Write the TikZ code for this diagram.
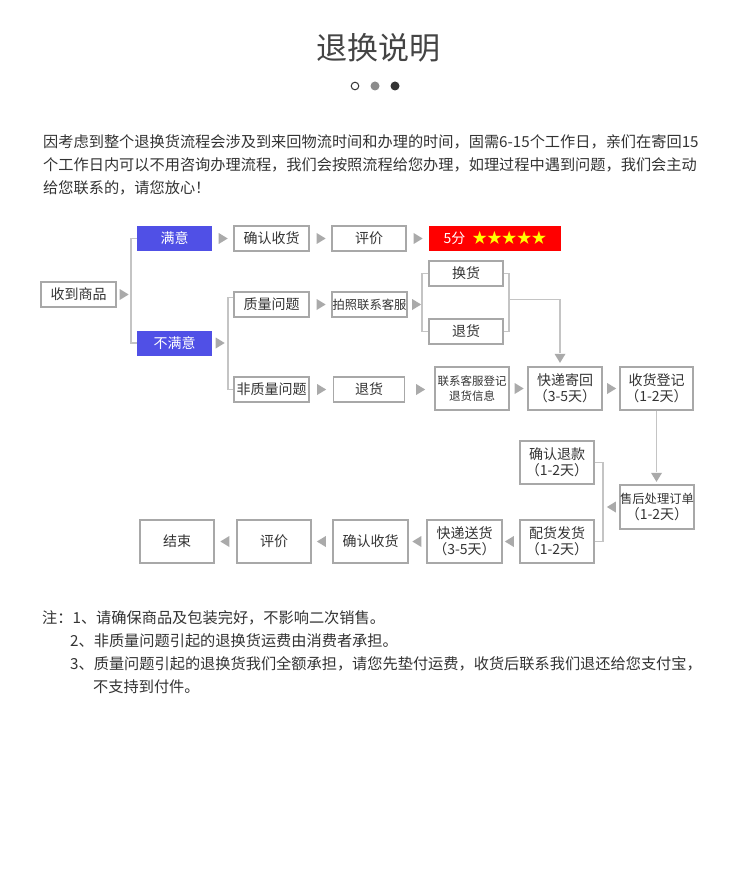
\documentclass[tikz,border=0pt]{standalone}
\usepackage{fontspec}
\setmainfont{Noto Sans CJK SC}
\usetikzlibrary{calc}
\definecolor{bordergray}{HTML}{A8A8A8}
\definecolor{linegray}{HTML}{C4C4C4}
\definecolor{trigray}{HTML}{AAAAAA}
\definecolor{txt}{HTML}{333333}
\definecolor{titlegray}{HTML}{444444}
\definecolor{satblue}{RGB}{80,80,230}
\definecolor{starred}{HTML}{FF0000}
\definecolor{staryellow}{HTML}{FFFF00}
\tikzset{
 bx/.style={draw=bordergray, line width=1.3pt, inner sep=0pt, minimum height=25pt, text=txt, font=\fontsize{14}{16}\selectfont, align=center},
 tall/.style={minimum height=43pt},
 bluebox/.style={fill=satblue, inner sep=0pt, minimum width=75pt, minimum height=25pt, text=white, font=\fontsize{14}{16}\selectfont},
 ln/.style={draw=linegray, line width=1.8pt},
 para/.style={anchor=west, inner sep=0pt, text=txt, font=\fontsize{15.2}{15}\selectfont},
 rtri/.pic={\fill[trigray] (-4.5,-5.5) -- (4.5,0) -- (-4.5,5.5) -- cycle;},
}
\begin{document}
\begin{tikzpicture}[x=1pt,y=-1pt]
\useasboundingbox[fill=white] (0,0) rectangle (750,874);
% title
\node[text=titlegray, font=\fontsize{31}{31}\selectfont, inner sep=0] (title) at (378,48) {退换说明};
\draw[draw=txt, line width=1pt] (355,86) circle (3.8);
\fill[fill=gray!90] (375,86) circle (4.5);
\fill[fill=txt] (395,86) circle (4.5);
% paragraph
\node[para] (p1) at (43,142) {因考虑到整个退换货流程会涉及到来回物流时间和办理的时间，固需6-15个工作日，亲们在寄回15};
\node[para] (p2) at (43,165) {个工作日内可以不用咨询办理流程，我们会按照流程给您办理，如理过程中遇到问题，我们会主动};
\node[para] (p3) at (43,188) {给您联系的，请您放心！};
% flow nodes
\node[bx, minimum width=75pt] (recv) at (78.5,294.5) {收到商品};
\node[bluebox] (sat) at (174.5,238.5) {满意};
\node[bluebox] (unsat) at (174.5,343) {不满意};
\node[bx, minimum width=75pt] (conf1) at (271.5,238.5) {确认收货};
\node[bx, minimum width=74pt] (eval1) at (369,238.5) {评价};
\node[fill=starred, inner sep=0pt, minimum width=132pt, minimum height=25pt] (five) at (495,238.5)
  {\fontsize{14}{16}\selectfont\color{white}5分\hspace{7pt}\color{staryellow}\fontsize{14.8}{16}\selectfont ★★★★★};
\node[bx, minimum width=75pt] (qual) at (271.5,304.5) {质量问题};
\node[bx, minimum width=75pt, font=\fontsize{12.3}{14}\selectfont] (photo) at (369.5,304.5) {拍照联系客服};
\node[bx, minimum width=74pt] (exch) at (466,273.5) {换货};
\node[bx, minimum width=74pt] (ret1) at (466,331.5) {退货};
\node[bx, minimum width=75pt] (nonq) at (271.5,389.5) {非质量问题};
\node[bx, minimum width=71pt] (ret2) at (369,389.5) {退货};
\node[bx, tall, minimum width=74pt, font=\fontsize{11.5}{15}\selectfont] (contact) at (472,388.5) {联系客服登记\\退货信息};
\node[bx, tall, minimum width=74pt] (exp1) at (565,388.5) {快递寄回\\（3-5天）};
\node[bx, tall, minimum width=73pt] (rcv2) at (656.5,388.5) {收货登记\\（1-2天）};
\node[bx, minimum width=74pt, minimum height=44pt, font=\fontsize{12.3}{16}\selectfont] (after) at (657,507) {售后处理订单\\{\fontsize{14}{16}\selectfont（1-2天）}};
\node[bx, tall, minimum width=74pt] (refund) at (557,462.5) {确认退款\\（1-2天）};
\node[bx, tall, minimum width=74pt] (ship) at (557,541.5) {配货发货\\（1-2天）};
\node[bx, tall, minimum width=75pt] (exp2) at (464.5,541.5) {快递送货\\（3-5天）};
\node[bx, tall, minimum width=75pt] (conf2) at (370.5,541.5) {确认收货};
\node[bx, tall, minimum width=74pt] (eval2) at (274,541.5) {评价};
\node[bx, tall, minimum width=74pt] (end) at (177,541.5) {结束};
% connectors
\draw[ln] (sat.west) -- ++(-6,0) |- (unsat.west);
\draw[ln] ($(qual.west)+(0,-7)$) -- ++(-5,0) |- (nonq.west);
\draw[ln] (exch.west) -- ++(-6,0) |- (ret1.west);
\draw[ln] (exch.east) -- ++(5,0) |- (ret1.east);
\coordinate (rb) at ($(exch.east)!0.5!(ret1.east)+(5,-3)$);
\coordinate (dn1) at ($(exp1.north)+(-5,-13)$);
\draw[ln] (rb) -| (dn1);
\coordinate (dn2) at ($(after.north)+(-0.5,-12)$);
\draw[ln] (rcv2.south) -- (dn2);
\draw[ln] (refund.east) -- ++(8,0) |- (ship.east);
% triangles
\pic at ($(recv.east)+(7.5,0)$) {rtri};
\pic at ($(sat.east)+(11,0)$) {rtri};
\pic at ($(conf1.east)+(11.5,0)$) {rtri};
\pic at ($(eval1.east)+(11.5,0)$) {rtri};
\pic at ($(unsat.east)+(8,0)$) {rtri};
\pic at ($(qual.east)+(11.5,0)$) {rtri};
\pic at ($(photo.east)+(9,0)$) {rtri};
\pic at ($(nonq.east)+(12,0)$) {rtri};
\pic at ($(ret2.east)+(15.5,0)$) {rtri};
\pic at ($(contact.east)+(9.5,0)$) {rtri};
\pic at ($(exp1.east)+(9,0)$) {rtri};
\pic[rotate=-90] at ($(exp1.north)+(-5,-8)$) {rtri};
\pic[rotate=-90] at ($(after.north)+(-0.5,-7)$) {rtri};
\pic[rotate=180] at ($(after.west)+(-8,0)$) {rtri};
\pic[rotate=180] at ($(ship.west)+(-10,0)$) {rtri};
\pic[rotate=180] at ($(exp2.west)+(-9.5,0)$) {rtri};
\pic[rotate=180] at ($(conf2.west)+(-11,0)$) {rtri};
\pic[rotate=180] at ($(eval2.west)+(-11.5,0)$) {rtri};
% notes
\node[para] (n1) at (42,618) {注：1、请确保商品及包装完好，不影响二次销售。};
\node[para] (n2) at (70,641) {2、非质量问题引起的退换货运费由消费者承担。};
\node[para] (n3) at (70,664) {3、质量问题引起的退换货我们全额承担，请您先垫付运费，收货后联系我们退还给您支付宝，};
\node[para] (n4) at (93,687) {不支持到付件。};
\end{tikzpicture}
\end{document}
